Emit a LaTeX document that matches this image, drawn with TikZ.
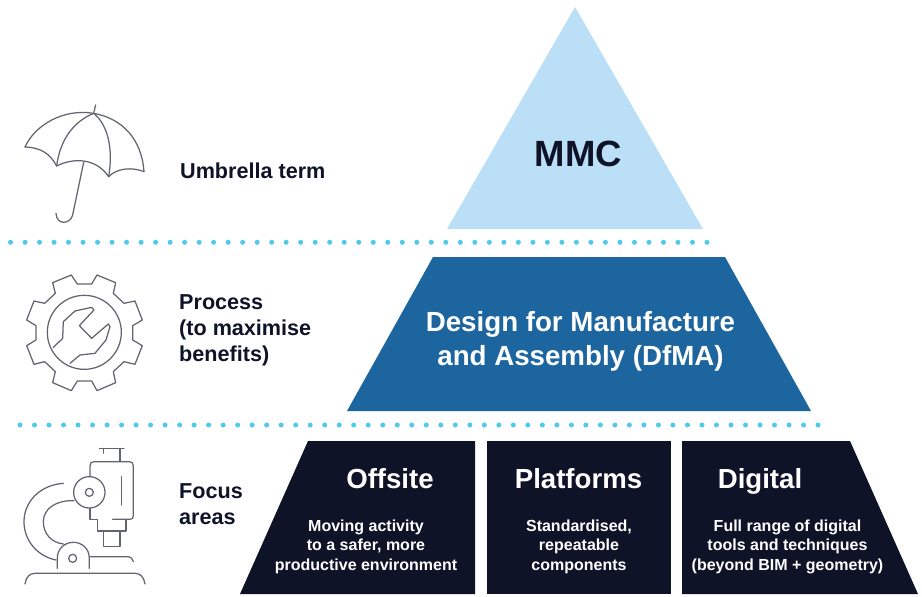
\documentclass[tikz,border=0pt]{standalone}
\usepackage{fontspec}
\setmainfont{Liberation Sans}
\definecolor{ltblue}{HTML}{BBDFF6}
\definecolor{midblue}{HTML}{1C659F}
\definecolor{navy}{HTML}{0E1328}
\definecolor{dotc}{HTML}{4FC9EE}
\definecolor{iconc}{HTML}{62656F}
\tikzset{
  iconline/.style={draw=iconc,line width=1.25pt,line cap=round,line join=round},
  sidelabel/.style={font=\fontsize{21.6}{26.3}\selectfont\bfseries,text=navy,align=left,anchor=west,inner sep=0pt},
  headw/.style={font=\fontsize{27.6}{33}\selectfont\bfseries,text=white,align=center,inner sep=0pt,anchor=base},
  subw/.style={font=\fontsize{16}{19.5}\selectfont\bfseries,text=white,align=center,inner sep=0pt},
}
\begin{document}
\begin{tikzpicture}[x=1pt,y=-1pt]
\useasboundingbox (0,0) rectangle (922,597);
% shapes
\fill[ltblue] (575,7) -- (703,229) -- (447,229) -- cycle;
\fill[midblue] (433,257) -- (725,257) -- (811,411) -- (347,411) -- cycle;
\fill[navy] (308,441) -- (475,441) -- (475,594) -- (240,594) -- cycle;
\fill[navy] (487,441) -- (671,441) -- (671,594) -- (487,594) -- cycle;
\fill[navy] (682,441) -- (850,441) -- (918,594) -- (682,594) -- cycle;
% dots
\foreach \i in {0,...,48} \fill[dotc] (10.5+\i*14.51,242.3) circle (2.5pt);
\foreach \i in {0,...,55} \fill[dotc] (20+\i*14.51,425) circle (2.5pt);
% texts
\node[font=\fontsize{36.5}{40}\selectfont\bfseries,text=navy,inner sep=0pt] (mmc) at (578.5,154) {MMC};
\node[font=\fontsize{27.7}{34}\selectfont\bfseries,text=white,align=center,inner sep=0pt] (dfma) at (580.5,341.5) {Design for Manufacture\\and Assembly (DfMA)};
\node[headw] (off) at (390,488.5) {Offsite};
\node[headw] (plat) at (578.5,488.5) {Platforms};
\node[headw] (dig) at (760,488.5) {Digital};
\node[subw] (offs) at (366,546.5) {Moving activity\\to a safer, more\\productive environment};
\node[subw] (plats) at (579,546.5) {Standardised,\\repeatable\\components};
\node[subw] (digs) at (787.5,546.5) {Full range of digital\\tools and techniques\\(beyond BIM + geometry)};
\node[sidelabel] (l1) at (180,171) {Umbrella term};
\node[sidelabel] (l2) at (179,330.5) {Process\\(to maximise\\benefits)};
\node[sidelabel] (l3) at (179,504.5) {Focus\\areas};
% umbrella
\begin{scope}[shift={(0,90)},x=0.3333pt,y=-0.3333pt,iconline]
\draw (287,45) -- (281,70);
\draw (75,171) .. controls (105,105) and (190,55) .. (281,70) .. controls (365,85) and (425,145) .. (432,245);
\draw (75,171) .. controls (120,172) and (150,190) .. (170,228) .. controls (215,205) and (285,200) .. (326,260) .. controls (350,235) and (395,230) .. (432,245);
\draw (170,228) .. controls (180,150) and (220,95) .. (281,70) .. controls (325,105) and (340,180) .. (326,260);
\draw (251,217) -- (218,375) .. controls (212,402) and (170,408) .. (168,370);
\end{scope}
% gear
\begin{scope}[shift={(0,260)},x=0.3333pt,y=-0.3333pt,iconline]
\draw (232,72)--(275,72)--(291,45)--(347,68)--(340,100)--(372,130)--(405,123)--(427,180)--(398,197)--(398,240)--(427,257)--(405,313)--(372,305)--(340,335)--(347,368)--(291,392)--(275,363)--(232,363)--(214,392)--(158,368)--(166,335)--(134,305)--(102,313)--(80,257)--(108,240)--(108,197)--(80,180)--(102,123)--(134,130)--(166,100)--(158,68)--(214,45)--cycle;
\draw (253,217) circle (37pt);
\draw (160,262)--(188,235)--(190,185)--(225,153)--(275,142)--(282,150)--(238,197)--(275,235)--(325,192)--(330,200)--(318,240)--(285,280)--(240,285)--(210,310);
\end{scope}
% microscope
\begin{scope}[shift={(0,430)},x=0.3333pt,y=-0.3333pt,iconline]
\draw (298,55) -- (372,55);
\draw (310,55) -- (310,70);
\draw (360,55) -- (360,95);
\draw (270,140) -- (270,108) .. controls (270,99) and (274,95) .. (282,95) -- (388,95) .. controls (396,95) and (400,99) .. (400,108) -- (400,258) .. controls (400,265) and (396,268) .. (390,268) -- (338,268);
\draw (365,140) -- (365,225);
\draw (268,187) circle (15.7pt);
\draw (268,187) circle (4pt);
\draw (270,235) -- (270,268) -- (292,268) -- (292,303) -- (378,303) -- (378,268);
\draw (310,303) -- (310,350) -- (360,350) -- (360,303);
\draw (190,160) .. controls (120,165) and (72,215) .. (72,275) .. controls (72,330) and (110,378) .. (168,390);
\draw (222,212) .. controls (170,210) and (130,235) .. (130,275) .. controls (130,312) and (155,338) .. (190,342);
\draw (172,415) -- (172,385) .. controls (172,355) and (195,337) .. (220,337) .. controls (245,337) and (268,355) .. (268,385) -- (268,415);
\draw (218,385) circle (4pt);
\draw (272,380) -- (385,380) .. controls (392,380) and (398,386) .. (400,395);
\draw (75,462) .. controls (78,442) and (88,430) .. (105,430) -- (405,430) .. controls (422,430) and (432,442) .. (435,462);
\end{scope}
\end{tikzpicture}
\end{document}
